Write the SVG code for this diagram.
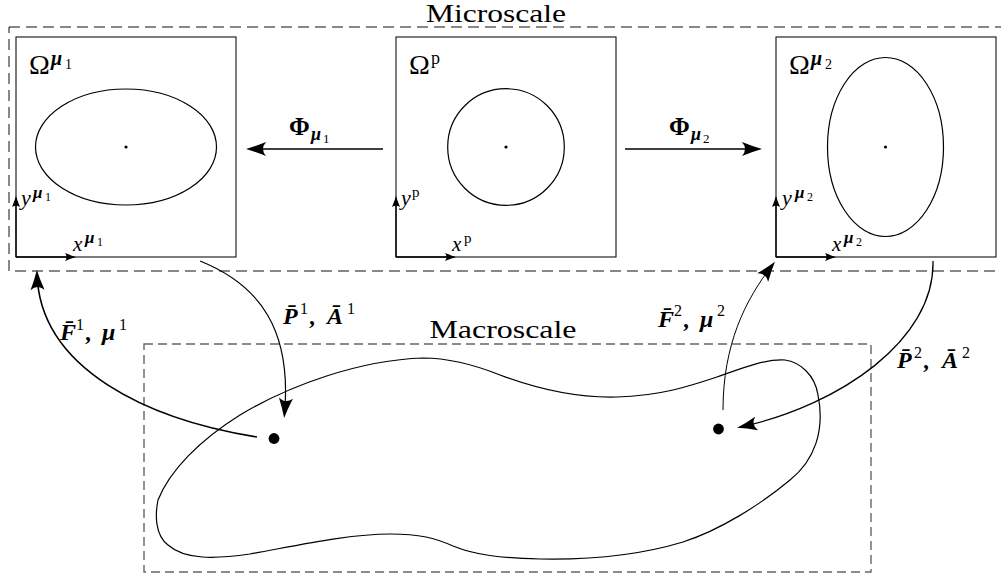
<svg xmlns="http://www.w3.org/2000/svg" width="1001" height="579" viewBox="0 0 1001 579">
<style>
.rm{font-family:"Liberation Serif","DejaVu Serif",serif;fill:#000}
.bi{font-family:"Liberation Serif","DejaVu Serif",serif;font-weight:bold;font-style:italic;fill:#000}
.bd{font-family:"Liberation Serif","DejaVu Serif",serif;font-weight:bold;fill:#000}
.it{font-family:"Liberation Serif","DejaVu Serif",serif;font-style:italic;fill:#000}
.box{fill:none;stroke:#111;stroke-width:1.1}
.shape{fill:none;stroke:#000;stroke-width:1.2}
.micro{fill:none;stroke:#111;stroke-width:1;stroke-dasharray:11 6}
.macro{fill:none;stroke:#666;stroke-width:1.4;stroke-dasharray:9 5}
.axis{fill:none;stroke:#000;stroke-width:1.3;marker-end:url(#sm)}
.conn{fill:none;stroke:#000;marker-end:url(#big)}
</style>
<defs>
<marker id="big" markerUnits="userSpaceOnUse" viewBox="-22 -9 24 18" markerWidth="24" markerHeight="18" refX="-4" refY="0" orient="auto" overflow="visible">
<path d="M0,0 Q-9,-2.5 -20,-7 Q-14,0 -20,7 Q-9,2.5 0,0 Z" fill="#000"/>
</marker>
<marker id="sm" markerUnits="userSpaceOnUse" viewBox="-13 -6 15 12" markerWidth="15" markerHeight="12" refX="-2" refY="0" orient="auto" overflow="visible">
<path d="M0,0 Q-5,-1.5 -11,-4 Q-8,0 -11,4 Q-5,1.5 0,0 Z" fill="#000"/>
</marker>
</defs>

<g id="microscale">
<rect class="micro" x="9" y="27" width="1000" height="244"/>
<text class="rm" x="496" y="22" font-size="26" text-anchor="middle" textLength="140" lengthAdjust="spacingAndGlyphs">Microscale</text>
</g>

<g id="macroscale">
<rect class="macro" x="144" y="344" width="727" height="228"/>
<text class="rm" x="503" y="338" font-size="26" text-anchor="middle" textLength="147" lengthAdjust="spacingAndGlyphs">Macroscale</text>
<path class="shape" d="M423,358 C450,358 475,365 500,375 C540,390 580,398 617,397 C660,396 690,386 717,377 C745,367 765,359 785,360 C800,362 815,375 818,395 C825,430 815,460 790,480 C760,505 720,530 683,542 C640,555 590,560 540,559 C500,558 475,555 453,546 C435,538 420,534 390,534 C350,534 300,545 250,554 C215,559 185,560 168,545 C155,535 155,515 158,500 C170,470 200,440 240,415 C290,385 360,360 423,358 Z"/>
<circle cx="274" cy="438.5" r="5.4" fill="#000"/>
<circle cx="718.5" cy="429" r="5.4" fill="#000"/>
</g>

<g id="omega-mu1">
<rect class="box" x="16" y="37" width="220" height="220"/>
<ellipse class="shape" cx="126" cy="147" rx="90.5" ry="58"/>
<circle cx="126" cy="147" r="1.6" fill="#000"/>
<path class="axis" d="M16,257 V198"/>
<path class="axis" d="M16,257 H74"/>
<text><tspan class="rm" x="29" y="74" font-size="28">Ω</tspan><tspan class="bi" x="51" y="65" font-size="20">μ</tspan><tspan class="rm" x="65" y="69" font-size="14">1</tspan></text>
<text><tspan class="it" x="21" y="205" font-size="22">y</tspan><tspan class="bi" x="33" y="198" font-size="17">μ</tspan><tspan class="rm" x="45" y="201" font-size="12">1</tspan></text>
<text><tspan class="it" x="73" y="251" font-size="21">x</tspan><tspan class="bi" x="85" y="243" font-size="17">μ</tspan><tspan class="rm" x="97" y="246" font-size="12">1</tspan></text>
</g>

<g id="omega-p">
<rect class="box" x="396" y="37" width="220" height="220"/>
<circle class="shape" cx="506" cy="147" r="58.3"/>
<circle cx="506" cy="147" r="1.6" fill="#000"/>
<path class="axis" d="M396,257 V198"/>
<path class="axis" d="M396,257 H454"/>
<text><tspan class="rm" x="409" y="74" font-size="28">Ω</tspan><tspan class="rm" x="431" y="64" font-size="18">p</tspan></text>
<text><tspan class="it" x="401" y="205" font-size="22">y</tspan><tspan class="rm" x="412" y="197" font-size="15">p</tspan></text>
<text><tspan class="it" x="452" y="251" font-size="21">x</tspan><tspan class="rm" x="464" y="243" font-size="15">p</tspan></text>
</g>

<g id="omega-mu2">
<rect class="box" x="776" y="37" width="220" height="220"/>
<ellipse class="shape" cx="885.5" cy="147" rx="58" ry="89.5"/>
<circle cx="885.5" cy="147" r="1.6" fill="#000"/>
<path class="axis" d="M776,257 V198"/>
<path class="axis" d="M776,257 H834"/>
<text><tspan class="rm" x="789" y="74" font-size="28">Ω</tspan><tspan class="bi" x="811" y="65" font-size="20">μ</tspan><tspan class="rm" x="825" y="69" font-size="14">2</tspan></text>
<text><tspan class="it" x="782" y="205" font-size="22">y</tspan><tspan class="bi" x="795" y="198" font-size="17">μ</tspan><tspan class="rm" x="807" y="201" font-size="12">2</tspan></text>
<text><tspan class="it" x="832" y="251" font-size="21">x</tspan><tspan class="bi" x="844" y="243" font-size="17">μ</tspan><tspan class="rm" x="856" y="246" font-size="12">2</tspan></text>
</g>

<g id="connectors">
<path class="conn" stroke-width="1.3" d="M383,149 L250,149"/>
<path class="conn" stroke-width="1.3" d="M625,149 L758,149"/>
<path class="conn" stroke-width="1.2" d="M200,261 C260,285 292,330 284.5,414"/>
<path class="conn" stroke-width="1.6" d="M257,437 C150,420 40,370 37,274"/>
<path class="conn" stroke-width="1" d="M723,410 C723,345 745,300 772.5,265"/>
<path class="conn" stroke-width="1.3" d="M933,261 C935,340 840,405 741,427"/>
</g>

<g id="labels">
<text><tspan class="bd" x="289" y="135" font-size="25">Φ</tspan><tspan class="bi" x="311" y="140" font-size="18">μ</tspan><tspan class="rm" x="323" y="143" font-size="13">1</tspan></text>
<text><tspan class="bd" x="669" y="135" font-size="25">Φ</tspan><tspan class="bi" x="691" y="140" font-size="18">μ</tspan><tspan class="rm" x="703" y="143" font-size="13">2</tspan></text>
<text font-size="24"><tspan class="bi" x="283" y="324">P̄</tspan><tspan class="rm" x="300" y="314" font-size="16">1</tspan><tspan class="bi" x="310" y="324">,</tspan><tspan class="bi" x="327" y="324">Ā</tspan><tspan class="rm" x="347" y="314" font-size="16">1</tspan></text>
<text font-size="24"><tspan class="bi" x="60" y="340">F̄</tspan><tspan class="rm" x="76" y="330" font-size="16">1</tspan><tspan class="bi" x="86" y="340">,</tspan><tspan class="bi" x="102" y="340">μ</tspan><tspan class="rm" x="119" y="330" font-size="16">1</tspan></text>
<text font-size="24"><tspan class="bi" x="658" y="327">F̄</tspan><tspan class="rm" x="674" y="316" font-size="16">2</tspan><tspan class="bi" x="684" y="327">,</tspan><tspan class="bi" x="700" y="327">μ</tspan><tspan class="rm" x="717" y="316" font-size="16">2</tspan></text>
<text font-size="24"><tspan class="bi" x="897" y="368">P̄</tspan><tspan class="rm" x="914" y="358" font-size="16">2</tspan><tspan class="bi" x="924" y="368">,</tspan><tspan class="bi" x="942" y="368">Ā</tspan><tspan class="rm" x="962" y="358" font-size="16">2</tspan></text>
</g>
</svg>
